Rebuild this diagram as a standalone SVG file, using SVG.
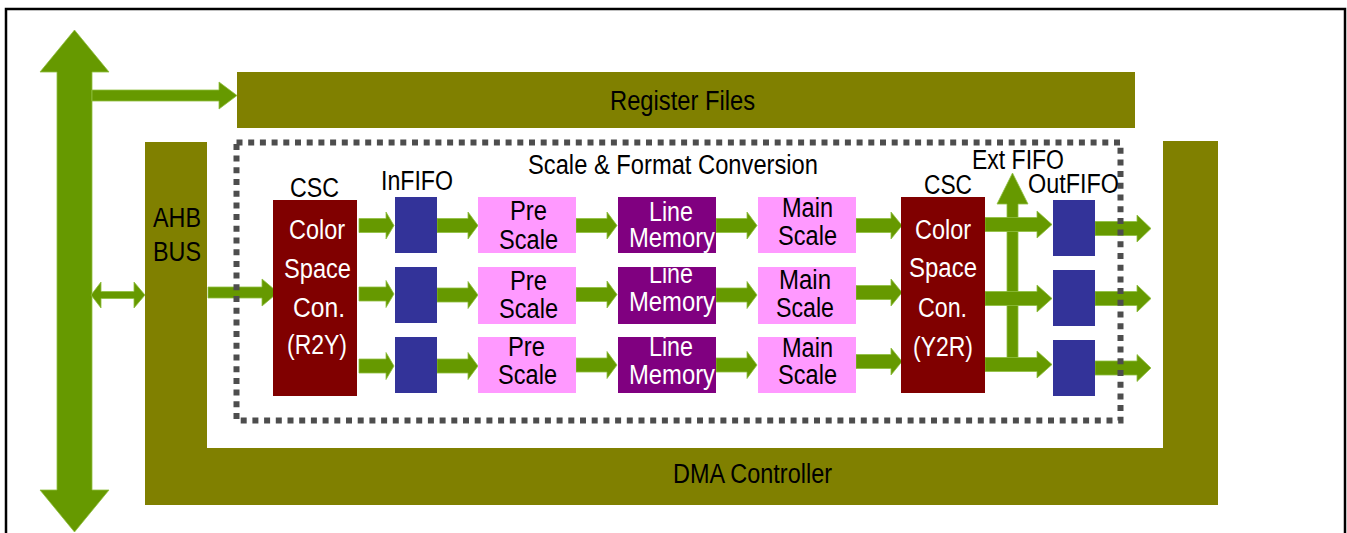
<svg xmlns="http://www.w3.org/2000/svg" width="1347" height="533" viewBox="0 0 1347 533">
<style>
text{font-family:"Liberation Sans",Arial,sans-serif;font-size:27px;fill:#000}
.w{fill:#fff}
.ol{fill:#808000}
.ar{fill:#669900;stroke:#8fbf3f;stroke-width:0.8}
.fifo{fill:#333399}
.pink{fill:#ff99ff}
.lm{fill:#800080}
.csc{fill:#800000}
</style>
<rect x="6" y="9" width="1339" height="600" fill="#fff" stroke="#000" stroke-width="2.5"/>

<g id="connectors">
  <polygon class="ar" points="57,72 40,72 74.5,30 109,72 92,72 92,490 109,490 74.5,532 40,490 57,490"/>
  <polygon class="ar" points="92,90 219,90 219,82 237,95.5 219,109 219,101 92,101"/>
  <polygon class="ar" points="91,295 101,282 101,291.5 134,291.5 134,282 145,295 134,308 134,298.5 101,298.5 101,308"/>
  <polygon class="ar" points="208,287 262,287 262,279 278,292.5 262,306 262,298 208,298"/>
  <!-- CSC -> InFIFO -->
  <polygon class="ar" points="359,218.5 386,218.5 386,212 394,225.5 386,239 386,232.5 359,232.5"/>
  <polygon class="ar" points="359,287 386,287 386,280.5 394,294 386,307.5 386,301 359,301"/>
  <polygon class="ar" points="359,359 386,359 386,352.5 394,366 386,379.5 386,373 359,373"/>
  <!-- InFIFO -> Pre -->
  <polygon class="ar" points="437,218.5 468,218.5 468,212 478,225.5 468,239 468,232.5 437,232.5"/>
  <polygon class="ar" points="437,288 468,288 468,281.5 478,295 468,308.5 468,302 437,302"/>
  <polygon class="ar" points="437,359 468,359 468,352.5 478,366 468,379.5 468,373 437,373"/>
  <!-- Pre -> Line -->
  <polygon class="ar" points="576,218.5 607,218.5 607,212 617,225.5 607,239 607,232.5 576,232.5"/>
  <polygon class="ar" points="576,287.5 607,287.5 607,281 617,294.5 607,308 607,301.5 576,301.5"/>
  <polygon class="ar" points="576,358 607,358 607,351.5 617,365 607,378.5 607,372 576,372"/>
  <!-- Line -> Main -->
  <polygon class="ar" points="716,218.5 747,218.5 747,212 757,225.5 747,239 747,232.5 716,232.5"/>
  <polygon class="ar" points="716,288 747,288 747,281.5 757,295 747,308.5 747,302 716,302"/>
  <polygon class="ar" points="716,358 747,358 747,351.5 757,365 747,378.5 747,372 716,372"/>
  <!-- Main -> CSC -->
  <polygon class="ar" points="856,218.5 891,218.5 891,212 902,225.5 891,239 891,232.5 856,232.5"/>
  <polygon class="ar" points="856,285.5 891,285.5 891,279 902,292.5 891,306 891,299.5 856,299.5"/>
  <polygon class="ar" points="856,354.5 891,354.5 891,348 902,361.5 891,375 891,368.5 856,368.5"/>
  <!-- Ext FIFO -->
  <polygon class="ar" points="1007,358 1007,204 997,204 1012.5,173 1028,204 1018,204 1018,358"/>
  <!-- CSC -> OutFIFO -->
  <polygon class="ar" points="985,217.5 1037,217.5 1037,211 1052,224.5 1037,238 1037,231.5 985,231.5"/>
  <polygon class="ar" points="985,291.5 1037,291.5 1037,285 1052,298.5 1037,312 1037,305.5 985,305.5"/>
  <polygon class="ar" points="985,357.5 1037,357.5 1037,351 1052,364.5 1037,378 1037,371.5 985,371.5"/>
  <!-- OutFIFO -> out -->
  <polygon class="ar" points="1095,221.5 1137,221.5 1137,215 1151,228.5 1137,242 1137,235.5 1095,235.5"/>
  <polygon class="ar" points="1095,291.5 1137,291.5 1137,285 1151,298.5 1137,312 1137,305.5 1095,305.5"/>
  <polygon class="ar" points="1095,361 1137,361 1137,354.5 1151,368 1137,381.5 1137,375 1095,375"/>
</g>

<g id="register-files">
  <rect class="ol" x="237" y="72" width="898" height="56"/>
  <text x="610" y="110" textLength="145" lengthAdjust="spacingAndGlyphs">Register Files</text>
</g>

<g id="ahb-dma">
  <polygon class="ol" points="145,142 207,142 207,448 1163,448 1163,141 1218,141 1218,505 145,505"/>
  <text x="153" y="227" textLength="48" lengthAdjust="spacingAndGlyphs">AHB</text>
  <text x="153" y="261" textLength="48" lengthAdjust="spacingAndGlyphs">BUS</text>
  <text x="673" y="483" textLength="159" lengthAdjust="spacingAndGlyphs">DMA Controller</text>
</g>

<g id="scale-format-conversion">
  <rect x="236.5" y="142.5" width="884" height="278" fill="none" stroke="#4d4d4d" stroke-width="6" stroke-dasharray="6 5.7"/>
  <text x="528" y="174" textLength="290" lengthAdjust="spacingAndGlyphs">Scale &amp; Format Conversion</text>
</g>

<g id="csc-r2y">
  <rect class="csc" x="273" y="200" width="84" height="196"/>
  <text x="290" y="197" textLength="49" lengthAdjust="spacingAndGlyphs">CSC</text>
  <text class="w" x="289" y="239" textLength="56" lengthAdjust="spacingAndGlyphs">Color</text>
  <text class="w" x="284" y="278" textLength="67" lengthAdjust="spacingAndGlyphs">Space</text>
  <text class="w" x="293" y="317" textLength="52" lengthAdjust="spacingAndGlyphs">Con.</text>
  <text class="w" x="287" y="354" textLength="60" lengthAdjust="spacingAndGlyphs">(R2Y)</text>
</g>

<g id="infifo">
  <text x="381" y="190" textLength="72" lengthAdjust="spacingAndGlyphs">InFIFO</text>
  <rect class="fifo" x="395" y="197" width="42" height="56"/>
  <rect class="fifo" x="395" y="267" width="42" height="56"/>
  <rect class="fifo" x="395" y="337" width="42" height="56"/>
</g>

<g id="pre-scale">
  <rect class="pink" x="478" y="197" width="98" height="56"/>
  <rect class="pink" x="478" y="267" width="98" height="57"/>
  <rect class="pink" x="478" y="337" width="98" height="56"/>
  <text x="510" y="220" textLength="37" lengthAdjust="spacingAndGlyphs">Pre</text>
  <text x="499" y="249" textLength="59" lengthAdjust="spacingAndGlyphs">Scale</text>
  <text x="510" y="290" textLength="37" lengthAdjust="spacingAndGlyphs">Pre</text>
  <text x="499" y="318" textLength="59" lengthAdjust="spacingAndGlyphs">Scale</text>
  <text x="508" y="356" textLength="37" lengthAdjust="spacingAndGlyphs">Pre</text>
  <text x="498" y="384" textLength="59" lengthAdjust="spacingAndGlyphs">Scale</text>
</g>

<g id="line-memory">
  <rect class="lm" x="618" y="197" width="98" height="56"/>
  <rect class="lm" x="618" y="267" width="98" height="57"/>
  <rect class="lm" x="618" y="337" width="98" height="56"/>
  <text class="w" x="649" y="221" textLength="44" lengthAdjust="spacingAndGlyphs">Line</text>
  <text class="w" x="629" y="247" textLength="86" lengthAdjust="spacingAndGlyphs">Memory</text>
  <text class="w" x="649" y="283" textLength="44" lengthAdjust="spacingAndGlyphs">Line</text>
  <text class="w" x="629" y="311" textLength="86" lengthAdjust="spacingAndGlyphs">Memory</text>
  <text class="w" x="649" y="356" textLength="44" lengthAdjust="spacingAndGlyphs">Line</text>
  <text class="w" x="629" y="384" textLength="86" lengthAdjust="spacingAndGlyphs">Memory</text>
</g>

<g id="main-scale">
  <rect class="pink" x="758" y="197" width="98" height="56"/>
  <rect class="pink" x="758" y="267" width="98" height="57"/>
  <rect class="pink" x="758" y="337" width="98" height="56"/>
  <text x="782" y="217" textLength="51" lengthAdjust="spacingAndGlyphs">Main</text>
  <text x="778" y="245" textLength="59" lengthAdjust="spacingAndGlyphs">Scale</text>
  <text x="779" y="289" textLength="52" lengthAdjust="spacingAndGlyphs">Main</text>
  <text x="776" y="317" textLength="58" lengthAdjust="spacingAndGlyphs">Scale</text>
  <text x="782" y="357" textLength="51" lengthAdjust="spacingAndGlyphs">Main</text>
  <text x="778" y="384" textLength="59" lengthAdjust="spacingAndGlyphs">Scale</text>
</g>

<g id="csc-y2r">
  <rect class="csc" x="901" y="197" width="84" height="196"/>
  <text x="924" y="194" textLength="48" lengthAdjust="spacingAndGlyphs">CSC</text>
  <text class="w" x="915" y="239" textLength="56" lengthAdjust="spacingAndGlyphs">Color</text>
  <text class="w" x="909" y="277" textLength="68" lengthAdjust="spacingAndGlyphs">Space</text>
  <text class="w" x="918" y="317" textLength="49" lengthAdjust="spacingAndGlyphs">Con.</text>
  <text class="w" x="913" y="356" textLength="60" lengthAdjust="spacingAndGlyphs">(Y2R)</text>
</g>

<g id="ext-fifo">
  <text x="972" y="169" textLength="92" lengthAdjust="spacingAndGlyphs">Ext FIFO</text>
</g>

<g id="outfifo">
  <text x="1028" y="193" textLength="91" lengthAdjust="spacingAndGlyphs">OutFIFO</text>
  <rect class="fifo" x="1053" y="200" width="42" height="56"/>
  <rect class="fifo" x="1053" y="270" width="42" height="56"/>
  <rect class="fifo" x="1053" y="340" width="42" height="56"/>
</g>
</svg>
